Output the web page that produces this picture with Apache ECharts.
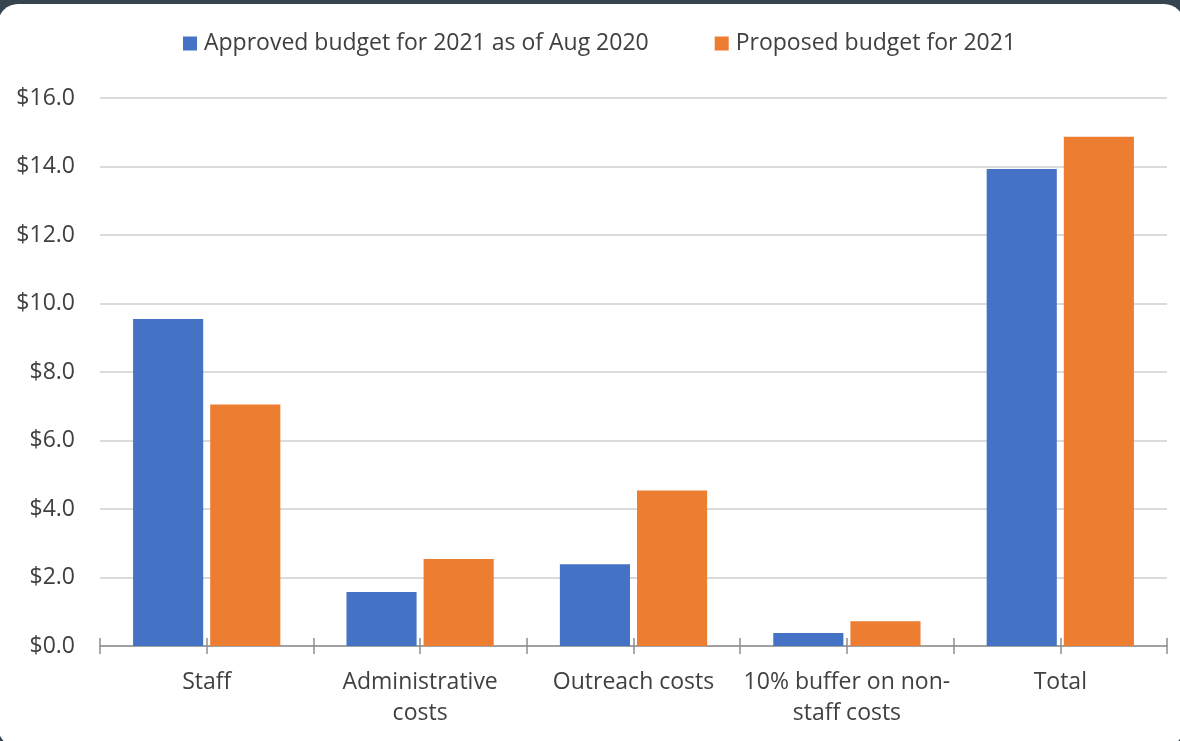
<!DOCTYPE html>
<html>
<head>
<meta charset="utf-8">
<script src="https://cdn.jsdelivr.net/npm/echarts@6/dist/echarts.min.js"></script>
<style>
  html, body { margin: 0; padding: 0; width: 1180px; height: 741px; overflow: hidden; background: #35444f; }
  #panel { position: absolute; left: -2px; top: 4px; width: 1186px; height: 743px; background: #ffffff; border-radius: 20px; overflow: hidden; }
  #chart { position: absolute; left: 2px; top: -4px; width: 1180px; height: 741px; }
</style>
</head>
<body>
<div id="panel"><div id="chart"></div></div>
<script>
// Budget categories and their axis labels (wrapped where the label is long)
const categories = ['Staff', 'Administrative costs', 'Outreach costs', '10% buffer on non-staff costs', 'Total'];
const categoryLabels = ['Staff', 'Administrative\ncosts', 'Outreach costs', '10% buffer on non-\nstaff costs', 'Total'];

// Values in $ millions
const seriesNames = ['Approved budget for 2021 as of Aug 2020', 'Proposed budget for 2021'];
const approved = [9.55, 1.58, 2.39, 0.38, 13.93];
const proposed = [7.05, 2.54, 4.54, 0.72, 14.87];

// Value axis ticks
const yTicks = [0, 2, 4, 6, 8, 10, 12, 14, 16];

const FONT = '"Open Sans", "Liberation Sans", sans-serif';
const FS = 23;
const TEXT = '#404040';
const AXIS = '#8f8f8f';

const chart = echarts.init(document.getElementById('chart'), null, { renderer: 'canvas' });

// Overlay value axis used only to draw the cross ticks at category edges and centres
function tickAxis(inside) {
  return {
    type: 'value', position: 'bottom', min: 0, max: categories.length, interval: 0.5,
    axisLine: { show: !inside, lineStyle: { color: AXIS, width: 1.5 } },
    axisTick: { show: true, inside: inside, length: 8, lineStyle: { color: AXIS, width: 1.5 } },
    axisLabel: { show: false }, splitLine: { show: false }
  };
}

chart.setOption({
  animation: false,
  textStyle: { fontFamily: FONT },
  color: ['#4472C4', '#ED7D31'],
  legend: {
    top: 27, left: 178,
    itemWidth: 14, itemHeight: 14, itemGap: 66,
    icon: 'rect',
    textStyle: { fontFamily: FONT, fontSize: FS, color: TEXT, padding: [0, 0, 0, 2] },
    data: seriesNames
  },
  grid: { left: 100, right: 13, top: 98, bottom: 95, containLabel: false },
  xAxis: [
    {
      type: 'category', data: categories,
      axisLine: { show: false }, axisTick: { show: false },
      axisLabel: {
        color: TEXT, fontFamily: FONT, fontSize: FS, lineHeight: 31, margin: 21,
        interval: 0,
        formatter: (v, i) => categoryLabels[i]
      }
    },
    tickAxis(false),
    tickAxis(true)
  ],
  yAxis: {
    type: 'value', min: yTicks[0], max: yTicks[yTicks.length - 1], interval: 2,
    axisLine: { show: false }, axisTick: { show: false },
    axisLabel: {
      color: TEXT, fontFamily: FONT, fontSize: FS, margin: 25,
      formatter: v => '$' + v.toFixed(1)
    },
    splitLine: { lineStyle: { color: '#cfcfcf', width: 1.5 } }
  },
  series: [
    { name: seriesNames[0], type: 'bar', data: approved, barGap: '10%', barCategoryGap: '31%', xAxisIndex: 0 },
    { name: seriesNames[1], type: 'bar', data: proposed, barGap: '10%', barCategoryGap: '31%', xAxisIndex: 0 }
  ]
});
</script>
</body>
</html>
